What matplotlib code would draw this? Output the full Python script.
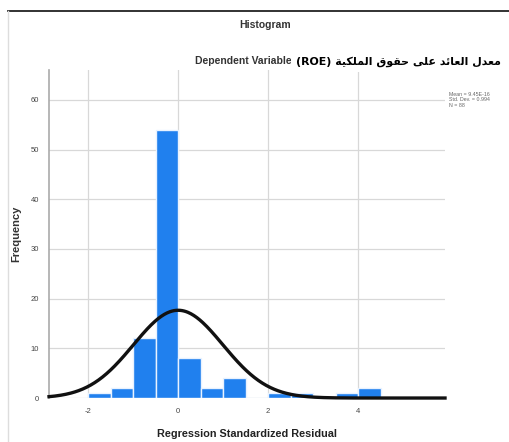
import numpy as np
import matplotlib.pyplot as plt
from matplotlib.lines import Line2D

plt.rcParams['axes.unicode_minus'] = False

# Histogram bins (Regression Standardized Residual) and counts
bin_edges = [-2.0, -1.5, -1.0, -0.5, 0.0, 0.5, 1.0, 1.5, 2.0, 2.5, 3.0, 3.5, 4.0]
counts = [1, 2, 12, 54, 8, 2, 4, 0, 1, 1, 0, 1, 2]
bin_width = 0.5

mean = 9.45e-16
std = 0.994
n_obs = 88

x_ticks = [-2, 0, 2, 4]
y_ticks = [0, 10, 20, 30, 40, 50, 60]

# Arabic label, pre-shaped (presentation forms, visual order) since matplotlib has no shaping
arabic_label = ("(ROE) "
                "\uFE94\uFEF4\uFEDC\uFEE0\uFEE4\uFEDF\uFE8D "
                "\uFED5\uFEEE\uFED8\uFEA3 "
                "\uFEF0\uFEE0\uFECB "
                "\uFEAA\uFE8B\uFE8E\uFECC\uFEDF\uFE8D "
                "\uFEDD\uFEAA\uFECC\uFEE3")

font = ['Liberation Sans', 'DejaVu Sans']

fig = plt.figure(figsize=(5.09, 4.42), dpi=100)
ax = fig.add_axes([0.0963, 0.0995, 0.778, 0.742])

ax.bar(bin_edges, counts, width=bin_width, align='edge',
       color='#2080ee', edgecolor='#e8f2ff', linewidth=1.0, zorder=3)

xmin, xmax = -2.87, 5.93
xs = np.linspace(xmin, xmax, 400)
pdf = n_obs * bin_width / (std * np.sqrt(2 * np.pi)) * np.exp(-0.5 * ((xs - mean) / std) ** 2)
ax.plot(xs, pdf, color='#111111', linewidth=2.4, zorder=4, clip_on=False)

ax.set_xlim(xmin, xmax)
ax.set_ylim(0, 66)
ax.set_xticks(x_ticks)
ax.set_yticks(y_ticks)
ax.tick_params(length=0, labelsize=5.5, labelcolor='#444444', pad=7)
for lbl in ax.get_xticklabels() + ax.get_yticklabels():
    lbl.set_family(font)

ax.grid(True, color='#d8d8d8', linewidth=0.9, zorder=0)
ax.set_axisbelow(True)
for side in ['top', 'right', 'bottom']:
    ax.spines[side].set_visible(False)
ax.spines['left'].set_color('#aaaaaa')
ax.spines['left'].set_linewidth(1.2)

ax.set_ylabel("Frequency", fontsize=8, fontweight='bold', family=font, labelpad=7,
              color='#333333')
ax.set_xlabel("Regression Standardized Residual", fontsize=7.8, fontweight='bold',
              family=font, labelpad=10, color='#222222')

fig.text(0.521, 0.943, "Histogram", ha='center', va='center', fontsize=7.5,
         fontweight='bold', family=font, color='#333333')
fig.text(0.572, 0.861, "Dependent Variable", ha='right', va='center', fontsize=7.5,
         fontweight='bold', family=font, color='#333333')
fig.text(0.582, 0.861, arabic_label, ha='left', va='center', fontsize=7.9,
         fontweight='bold', family=['DejaVu Sans'], color='black',
         bbox=dict(boxstyle='square,pad=0.5', facecolor='white', edgecolor='none'))

fig.text(0.882, 0.792, "Mean = 9.45E-16\nStd. Dev. = 0.994\nN = 88", ha='left', va='top',
         fontsize=3.8, family=font, color='#666666', linespacing=1.1)

# screenshot borders
fig.add_artist(Line2D([0.016, 1.0], [0.975, 0.975], color='#222222', linewidth=1.3))
fig.add_artist(Line2D([0.016, 0.016], [0.0, 0.975], color='#dddddd', linewidth=1.0))

fig.savefig("out.png", dpi=100)
